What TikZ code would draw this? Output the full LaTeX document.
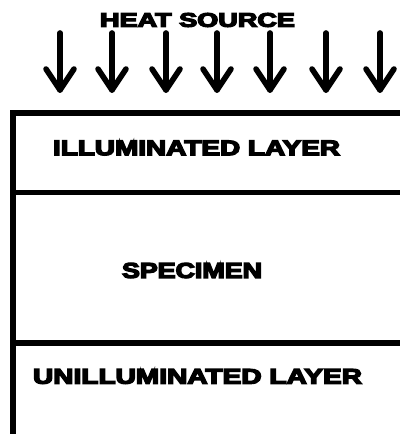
\documentclass[tikz,border=0pt]{standalone}
\usepackage{fontspec}
\usepackage{graphicx}
\newfontfamily\heavyfont[FakeBold=6]{Liberation Sans Bold}
\tikzset{
  wall/.style={line width=3.9pt, draw=black},
  heatarrow/.style={line width=4.2pt, line cap=round, line join=round},
  lbl/.style={inner sep=0pt, outer sep=0pt, font=\heavyfont\fontsize{14.6pt}{16pt}\selectfont}
}
\begin{document}
\begin{tikzpicture}[x=0.75pt, y=-0.75pt]
\useasboundingbox (0,0) rectangle (399,434);
\fill[white] (0,0) rectangle (399,434);
% title
\node[lbl] (title) at (197.5,20) {\resizebox{146.25pt}{10.3pt}{HEAT SOURCE}};
% arrows
\foreach \i/\ax in {1/60,2/112,3/166,4/217,5/270,6/326,7/380}{
  \coordinate (top\i) at (\ax,33);
  \coordinate (tip\i) at (\ax,90);
  \coordinate (wl\i) at (\ax-14,69);
  \coordinate (wr\i) at (\ax+14,69);
  \draw[heatarrow] (top\i) -- (tip\i);
  \draw[heatarrow] (wl\i) -- (tip\i) -- (wr\i);
}
% specimen box
\coordinate (tl) at (13,113);
\coordinate (tr) at (401,113);
\coordinate (bl) at (13,436);
\coordinate (d1l) at (13,192.5);
\coordinate (d1r) at (401,192.5);
\coordinate (d2l) at (13,343);
\coordinate (d2r) at (401,343);
\draw[wall, line cap=rect] (bl) -- (tl) -- (tr);
\draw[wall] (d1l) -- (d1r);
\draw[wall] (d2l) -- (d2r);
% labels
\node[lbl] (ill) at (196.5,148) {\resizebox{215.25pt}{10.9pt}{ILLUMINATED LAYER}};
\node[lbl] (spec) at (192,270.5) {\resizebox{105pt}{11.25pt}{SPECIMEN}};
\node[lbl] (unill) at (197.5,376.5) {\resizebox{246.75pt}{10.9pt}{UNILLUMINATED LAYER}};
\end{tikzpicture}
\end{document}
